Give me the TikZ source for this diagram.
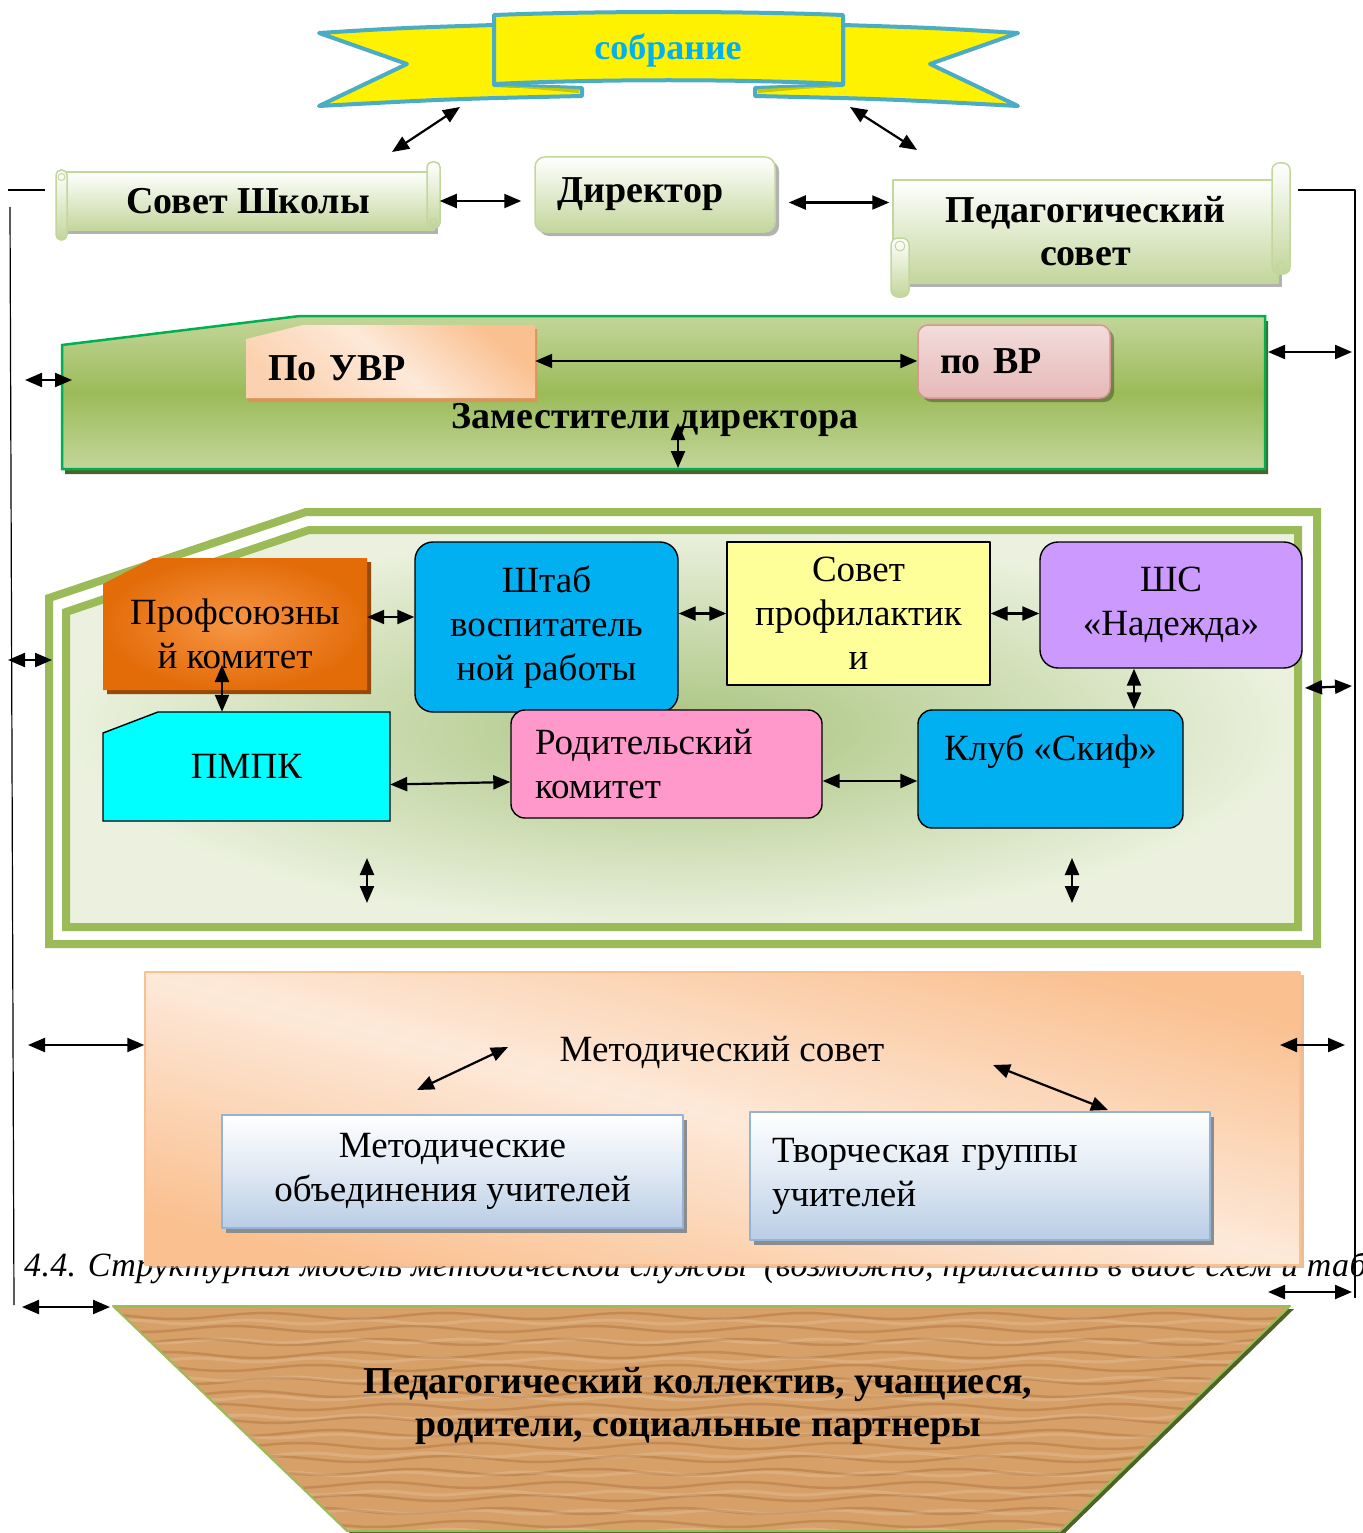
\documentclass[tikz,border=0pt]{standalone}
\usepackage{fontspec}
\setmainfont{Liberation Serif}
\newfontfamily\capfont[LetterSpace=1]{Liberation Serif}
\usetikzlibrary{arrows.meta,positioning,shadows}

\definecolor{ribbonteal}{HTML}{4BACC6}
\definecolor{ribbonblue}{HTML}{00B0F0}
\definecolor{ribbonfold}{HTML}{C8C800}
\definecolor{olivegreen}{HTML}{9BBB59}
\definecolor{palegreen}{HTML}{C3D69B}
\definecolor{scrolledge}{HTML}{C3D69B}
\definecolor{lightgreen}{HTML}{EBF1DE}
\definecolor{midgreen}{HTML}{A9C47F}
\definecolor{brightgreen}{HTML}{00B050}
\definecolor{zamshadow}{HTML}{4F6228}
\definecolor{peach}{HTML}{FAC090}
\definecolor{palepeach}{HTML}{FDE9D9}
\definecolor{uvrshadow}{HTML}{D9955A}
\definecolor{profshadow}{HTML}{984807}
\definecolor{orangedark}{HTML}{E36C09}
\definecolor{orangelight}{HTML}{F79646}
\definecolor{skyblue}{HTML}{00B0F0}
\definecolor{paleyellow}{HTML}{FFFF99}
\definecolor{lilac}{HTML}{CC99FF}
\definecolor{aqua}{HTML}{00FFFF}
\definecolor{pinkbox}{HTML}{FF99CC}
\definecolor{vrborder}{HTML}{D99694}
\definecolor{palerose}{HTML}{F2DCDB}
\definecolor{rosepink}{HTML}{E6B9B8}
\definecolor{steelblue}{HTML}{95B3D7}
\definecolor{iceblue}{HTML}{B9CDE5}
\definecolor{wood}{HTML}{D6A068}
\definecolor{wooddark}{HTML}{A86A35}

\tikzset{
  twoway/.style={{Triangle[length=17pt,width=14pt]}-{Triangle[length=17pt,width=14pt]}, line width=2.2pt},
  headfont/.style={font=\fontsize{38}{43}\selectfont\bfseries},
  boxfont/.style={font=\fontsize{37}{44}\selectfont},
  scrollpart/.style={draw=scrolledge, line width=1.5pt, top color=white, bottom color=palegreen},
  softshadow/.style={drop shadow={shadow xshift=4pt, shadow yshift=-4pt, fill=black, opacity=0.3}},
  unit/.style={draw=black, line width=1.4pt, boxfont, align=center, inner sep=0pt},
  framepart/.style={draw=olivegreen, line width=8pt, line join=miter},
}

\begin{document}
\begin{tikzpicture}[x=1pt, y=-1pt, line join=round]
\useasboundingbox (0,0) rectangle (1362,1533);

% outer frame lines
\draw[line width=1.2pt] (8,190) -- (45,190);
\draw[line width=1.2pt] (10,207) -- (14,1305);
\draw[line width=1.2pt] (1298,190) -- (1355,190) -- (1355,1298);

% ribbon
\path[fill=yellow, draw=ribbonteal, line width=4pt]
  (319,33) .. controls (400,28) .. (494,25) -- (494,85) -- (582,88) -- (582,96)
  .. controls (450,99) .. (319,106) -- (407,64) -- cycle;
\path[fill=yellow, draw=ribbonteal, line width=4pt]
  (1018,33) .. controls (937,28) .. (843,25) -- (843,85) -- (755,88) -- (755,96)
  .. controls (887,99) .. (1018,106) -- (930,64) -- cycle;
\fill[ribbonfold] (500,86) -- (579,89) -- (579,93) -- cycle;
\fill[ribbonfold] (837,86) -- (758,89) -- (758,93) -- cycle;
\path[fill=yellow, draw=ribbonteal, line width=4pt]
  (494,15) .. controls (600,11) and (737,11) .. (843,15) -- (843,84)
  .. controls (737,79) and (600,79) .. (494,84) -- cycle;
\node[font=\fontsize{36}{40}\selectfont\bfseries, text=ribbonblue] (sobranie) at (668,50) {собрание};

\coordinate (bannerL) at (460,107);
\coordinate (sovetUp) at (392,152);
\coordinate (bannerR) at (850,107);
\coordinate (pedUp) at (917,150);
\draw[twoway] (sovetUp) -- (bannerL);
\draw[twoway] (bannerR) -- (pedUp);

% scrolls
\node[scrollpart, softshadow, headfont, minimum width=372pt, minimum height=58pt] (sovetshk) at (248,201) {Совет Школы};
\path[scrollpart, rounded corners=5pt] (56,170) rectangle (67,240);
\path[scrollpart, rounded corners=5pt] (427,162) rectangle (440,228);
\draw[scrolledge, line width=1pt] (61.5,177) circle (3.5);
\draw[scrolledge, line width=1pt] (433.5,222) circle (3.5);

\node[scrollpart, softshadow, rounded corners=10pt, headfont, minimum height=75pt,
  text width=196pt, inner xsep=22pt, align=left] (direktor) at (655,194.5) {Директор};

\node[scrollpart, softshadow, headfont, align=center, minimum width=385pt, minimum height=103pt] (pedsovet) at (1085.5,231.5) {Педагогический\\совет};
\path[scrollpart, rounded corners=7pt] (1272,163) rectangle (1290,274);
\path[scrollpart, rounded corners=7pt] (891,238) rectangle (909,297);
\draw[scrolledge, line width=1pt] (1281,267) circle (5);
\draw[scrolledge, line width=1pt] (900,246) circle (5);

\draw[twoway, shorten <=5pt, shorten >=13pt] (sovetshk.east) -- (sovetshk.east -| direktor.west);
\draw[twoway, shorten <=13pt, shorten >=3pt] ([yshift=-8pt]direktor.east) -- ([yshift=-8pt]direktor.east -| pedsovet.west);

% deputies
\path[top color=palegreen, bottom color=palegreen, middle color=olivegreen, draw=brightgreen, line width=2.5pt, line join=miter,
  drop shadow={shadow xshift=3pt, shadow yshift=-5pt, fill=zamshadow, opacity=1}]
  (62,345) -- (300,316) -- (1265,316) -- (1265,469) -- (62,469) -- cycle;
\path[top color=peach, bottom color=peach!55!palepeach, middle color=palepeach, shading angle=-40,
  drop shadow={shadow xshift=2pt, shadow yshift=-4pt, fill=uvrshadow, opacity=1}]
  (246,339) -- (303,325) -- (535,325) -- (535,398) -- (246,398) -- cycle;
\node[headfont, text width=245pt, inner xsep=22pt, align=left, minimum height=73pt] (uvr) at (390.5,368) {По УВР};
\node[draw=vrborder, line width=1.5pt, rounded corners=10pt, top color=palerose, bottom color=rosepink, softshadow,
  headfont, text width=148pt, inner xsep=22pt, align=left, minimum height=73pt] (vr) at (1014,361.5) {по ВР};
\draw[twoway] ([yshift=7pt]uvr.east) -- ([yshift=7pt]uvr.east -| vr.west);
\node[headfont] (zamtext) at (655,420) {Заместители директора};
\coordinate (zamhigh) at (678,423);
\coordinate (zamlow) at (678,468);
\draw[twoway] (zamhigh) -- (zamlow);

% educational units
\path[framepart, fill=white] (49,598) -- (306,512) -- (1317,512) -- (1317,944) -- (49,944) -- cycle;
\path[framepart, inner color=midgreen, outer color=lightgreen] (66,612) -- (309,530) -- (1298,530) -- (1298,927) -- (66,927) -- cycle;

\path[inner color=orangelight, outer color=orangedark,
  drop shadow={shadow xshift=4pt, shadow yshift=-4pt, fill=profshadow, opacity=1}]
  (103,584) -- (153,558) -- (367,558) -- (367,690) -- (103,690) -- cycle;
\node[boxfont, align=center, minimum width=264pt, minimum height=132pt] (prof) at (235,634) {Профсоюзны\\й комитет};
\node[unit, fill=skyblue, rounded corners=18pt, minimum width=263pt, minimum height=170pt] (shtab) at (546.5,627) {Штаб\\воспитатель\\ной работы};
\node[unit, fill=paleyellow, minimum width=263pt, minimum height=143pt] (sovprof) at (858.5,613.5) {Совет\\профилактик\\и};
\node[unit, fill=lilac, rounded corners=18pt, minimum width=262pt, minimum height=126pt] (shs) at (1171,605) {ШС\\«Надежда»};
\path[fill=aqua, draw=black, line width=1.4pt, line join=miter] (103,733) -- (158,712) -- (390,712) -- (390,821) -- (103,821) -- cycle;
\node[boxfont, minimum width=287pt, minimum height=109pt] (pmpk) at (246.5,766.5) {ПМПК};
\node[unit, fill=pinkbox, rounded corners=14pt, minimum height=108pt, text width=263pt, inner xsep=24pt, align=left] (rodkom) at (666.5,764) {Родительский\\комитет};
\node[unit, fill=skyblue, rounded corners=14pt, minimum width=265pt, minimum height=118pt] (skif) at (1050.5,769) {Клуб «Скиф»\\\mbox{}};

\draw[twoway] ([yshift=17pt]prof.east) -- ([yshift=17pt]prof.east -| shtab.west);
\draw[twoway] (sovprof.west -| shtab.east) -- (sovprof.west);
\draw[twoway] (sovprof.east) -- (sovprof.east -| shs.west);
\coordinate (profin) at (222,665);
\draw[twoway] (profin) -- (profin |- pmpk.north);
\draw[twoway] ([yshift=-18pt]pmpk.east) -- ([yshift=-18pt]rodkom.west);
\draw[twoway] ([yshift=-17pt]rodkom.east) -- ([yshift=-17pt]rodkom.east -| skif.west);
\draw[twoway] ([xshift=-37pt]shs.south) -- ([xshift=-37pt]shs.south |- skif.north);
\coordinate (unitlinkA) at (367,858);
\coordinate (unitlinkB) at (367,903);
\coordinate (unitlinkC) at (1072,858);
\coordinate (unitlinkD) at (1072,903);
\draw[twoway] (unitlinkA) -- (unitlinkB);
\draw[twoway] (unitlinkC) -- (unitlinkD);

% caption under the methodical box
\node[anchor=base west, inner sep=0pt, font=\capfont\fontsize{34}{38}\selectfont\itshape] (caption) at (24,1276)
  {4.4. Структурная модель методической службы \ (возможно, прилагать в виде схем и таб};

% methodical council
\node[draw=peach, line width=1.5pt, top color=peach, bottom color=peach, middle color=palepeach, shading angle=-14,
  drop shadow={shadow xshift=4pt, shadow yshift=-3pt, fill=uvrshadow, opacity=0.6},
  minimum width=1155pt, minimum height=293pt] (metbox) at (722.5,1118.5) {};
\node[boxfont] (metsovet) at (722,1052) {Методический совет};
\node[draw=steelblue, line width=2pt, top color=white, bottom color=iceblue, middle color=iceblue!45!white,
  drop shadow={shadow xshift=4pt, shadow yshift=-5pt, fill=black!45, opacity=1},
  boxfont, align=center, minimum width=461pt, minimum height=113pt] (metob) at (452.5,1171.5) {Методические\\объединения учителей};
\node[draw=steelblue, line width=2pt, top color=white, bottom color=iceblue, middle color=iceblue!45!white,
  drop shadow={shadow xshift=4pt, shadow yshift=-5pt, fill=black!45, opacity=1},
  boxfont, text width=416pt, inner xsep=22pt, align=left, minimum height=128pt] (tvorch) at (980,1176) {Творческая группы\\учителей};
\coordinate (metarrowA) at (417,1090);
\coordinate (metarrowB) at (508,1047);
\coordinate (metarrowC) at (993,1065);
\coordinate (metarrowD) at (1108,1110);
\draw[twoway] (metarrowA) -- (metarrowB);
\draw[twoway] (metarrowC) -- (metarrowD);

% base: teachers, pupils, parents
\path[fill=wood, drop shadow={shadow xshift=4pt, shadow yshift=-3pt, fill=zamshadow, opacity=1}]
  (113,1306) -- (1290,1306) -- (1060,1531) -- (347,1531) -- cycle;
\begin{scope}
  \clip (113,1306) -- (1290,1306) -- (1060,1531) -- (347,1531) -- cycle;
  \foreach \g in {1316,1329,...,1531}
    \draw[wooddark, opacity=0.4, line width=2.5pt] plot[domain=100:1300, samples=60, smooth] (\x, {\g + 3*sin(2*\x + 5*\g)});
  \foreach \g in {1322,1341,...,1531}
    \draw[white, opacity=0.15, line width=3pt] plot[domain=100:1300, samples=50, smooth] (\x, {\g + 2*sin(3*\x + 4*\g)});
\end{scope}
\draw[olivegreen, line width=2pt] (113,1306) -- (1290,1306) -- (1060,1531) -- (347,1531) -- cycle;
\node[headfont, align=center] (basetext) at (698,1406) {Педагогический коллектив, учащиеся,\\родители, социальные партнеры};

% links to the outer frame
\coordinate (frameL1) at (25,380);   \coordinate (frameL1e) at (72,380);
\coordinate (frameL2) at (8,660);    \coordinate (frameL2e) at (52,660);
\coordinate (frameL3) at (28,1045);
\coordinate (frameL4) at (22,1307);  \coordinate (frameL4e) at (110,1307);
\coordinate (frameR1) at (1352,352); \coordinate (frameR1e) at (1268,352);
\coordinate (frameR2) at (1352,686); \coordinate (frameR2e) at (1305,688);
\coordinate (frameR3) at (1345,1045); \coordinate (frameR3e) at (1280,1045);
\coordinate (frameR4) at (1352,1292); \coordinate (frameR4e) at (1268,1292);
\draw[twoway] (frameL1) -- (frameL1e);
\draw[twoway] (frameL2) -- (frameL2e);
\draw[twoway] (frameL3) -- (frameL3 -| metbox.west);
\draw[twoway] (frameL4) -- (frameL4e);
\draw[twoway] (frameR1) -- (frameR1e);
\draw[twoway] (frameR2) -- (frameR2e);
\draw[twoway] (frameR3) -- (frameR3e);
\draw[twoway] (frameR4) -- (frameR4e);

\end{tikzpicture}
\end{document}
